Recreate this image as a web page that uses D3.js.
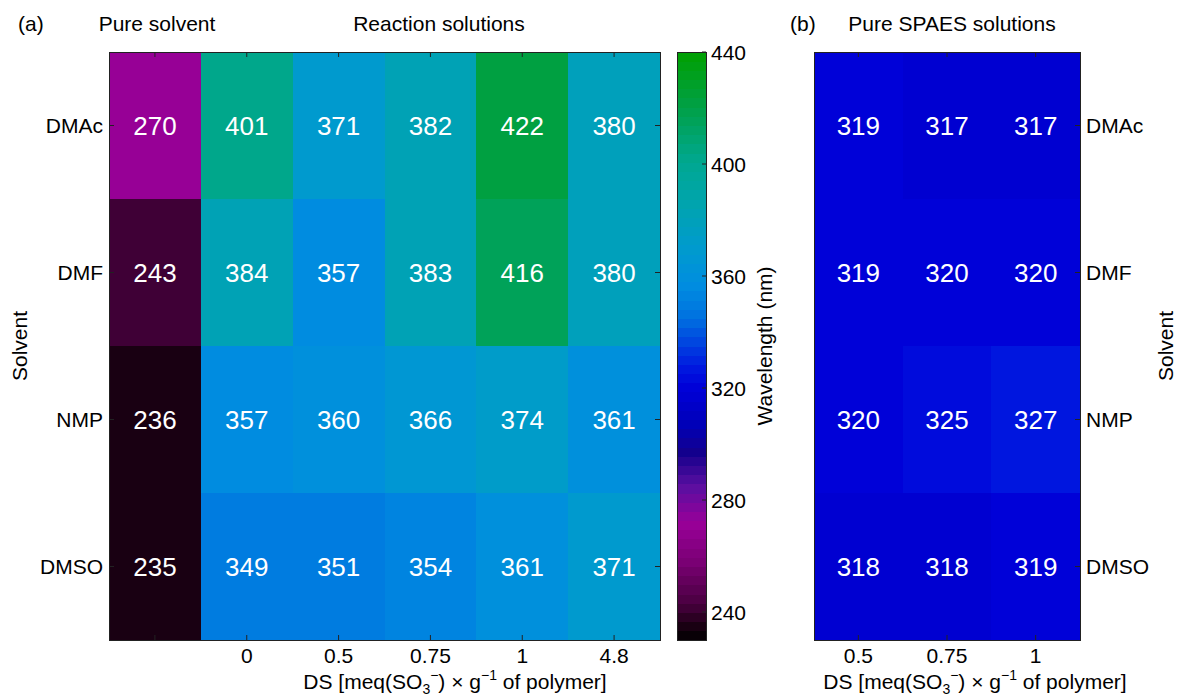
<!DOCTYPE html>
<html>
<head>
<meta charset="utf-8">
<script src="https://cdn.jsdelivr.net/npm/d3@7"></script>
<style>
  body { margin: 0; background: #fff; }
  svg text { font-family: "Liberation Sans", Arial, sans-serif; fill: #000; }
  rect { shape-rendering: crispEdges; }
</style>
</head>
<body>
<svg id="chart" width="1177" height="697"></svg>
<script>
// data
const solvents = ['DMAc', 'DMF', 'NMP', 'DMSO'];
const pureSolvent = [270, 243, 236, 235];
const reactionDS = ['0', '0.5', '0.75', '1', '4.8'];
const reaction = [
  [401, 371, 382, 422, 380],
  [384, 357, 383, 416, 380],
  [357, 360, 366, 374, 361],
  [349, 351, 354, 361, 371]
];
const spaesDS = ['0.5', '0.75', '1'];
const spaes = [
  [319, 317, 317],
  [319, 320, 320],
  [320, 325, 327],
  [318, 318, 319]
];
const cbTicks = [240, 280, 320, 360, 400, 440];

const svg = d3.select('#chart');

// colormap (discrete, 64 levels like matlab)
const cmin = 230, cmax = 440, nLevels = 64;
const stopVals = [230, 236, 243, 258, 272, 285, 297, 307, 320, 328, 345, 357, 371, 385, 401, 420, 440];
const stopCols = ['#000000', '#1f0016', '#48003f', '#7a0074', '#990099', '#5a0fa0', '#14008c', '#0000b8',
  '#0000d8', '#001ae0', '#0070e0', '#008ee0', '#009bcc', '#00a4b0', '#00a890', '#00a048', '#00a000'];
const smooth = d3.scaleLinear().domain(stopVals).range(stopCols).clamp(true);
function colour(v) {
  let i = Math.floor((v - cmin) / (cmax - cmin) * nLevels);
  i = Math.max(0, Math.min(nLevels - 1, i));
  return smooth(cmin + (i + 0.5) * (cmax - cmin) / nLevels);
}

const plotTop = 52, plotBottom = 640;
const y = d3.scaleBand().domain(solvents).range([plotTop, plotBottom]);

// ---- panel (a)
const colsA = ['pure'].concat(reactionDS);
const xA = d3.scaleBand().domain(colsA).range([109, 660]);

const cellsA = [];
solvents.forEach((s, i) => {
  cellsA.push({row: s, col: 'pure', v: pureSolvent[i]});
  reactionDS.forEach((d, j) => cellsA.push({row: s, col: d, v: reaction[i][j]}));
});

const gA = svg.append('g');
gA.selectAll('rect.cell').data(cellsA).enter().append('rect')
  .attr('class', 'cell')
  .attr('x', d => xA(d.col)).attr('y', d => y(d.row))
  .attr('width', xA.bandwidth() + 0.5).attr('height', y.bandwidth() + 0.5)
  .attr('fill', d => colour(d.v));
gA.selectAll('text.val').data(cellsA).enter().append('text')
  .attr('class', 'val')
  .attr('x', d => xA(d.col) + xA.bandwidth() / 2)
  .attr('y', d => y(d.row) + y.bandwidth() / 2 + 9)
  .attr('text-anchor', 'middle')
  .style('font-size', '26px').style('fill', '#fff')
  .text(d => d.v);

function frame(g, x0, x1, xScale, leftTicks, rightTicks) {
  g.append('rect').attr('x', x0).attr('y', plotTop).attr('width', x1 - x0).attr('height', plotBottom - plotTop)
    .attr('fill', 'none').attr('stroke', '#222').attr('stroke-width', 1);
  const tl = 5;
  xScale.domain().forEach(c => {
    const cx = xScale(c) + xScale.bandwidth() / 2;
    g.append('line').attr('x1', cx).attr('x2', cx).attr('y1', plotTop).attr('y2', plotTop + tl).attr('stroke', '#222');
    g.append('line').attr('x1', cx).attr('x2', cx).attr('y1', plotBottom).attr('y2', plotBottom - tl).attr('stroke', '#222');
  });
  solvents.forEach(s => {
    const cy = y(s) + y.bandwidth() / 2;
    if (leftTicks) g.append('line').attr('x1', x0).attr('x2', x0 + tl).attr('y1', cy).attr('y2', cy).attr('stroke', '#222');
    if (rightTicks) g.append('line').attr('x1', x1).attr('x2', x1 - tl).attr('y1', cy).attr('y2', cy).attr('stroke', '#222');
  });
}
frame(gA, 109, 660, xA, true, true);

// y tick labels left
gA.selectAll('text.ylab').data(solvents).enter().append('text')
  .attr('x', 103).attr('y', d => y(d) + y.bandwidth() / 2 + 7.5)
  .attr('text-anchor', 'end').style('font-size', '21px').text(d => d);
// x tick labels
gA.selectAll('text.xlab').data(reactionDS).enter().append('text')
  .attr('x', d => xA(d) + xA.bandwidth() / 2).attr('y', 663)
  .attr('text-anchor', 'middle').style('font-size', '21px').text(d => d);

function dsLabel(g, cx) {
  const t = g.append('text').attr('x', cx).attr('y', 689).attr('text-anchor', 'middle').style('font-size', '21px');
  t.append('tspan').text('DS [meq(SO');
  t.append('tspan').attr('dy', 5).style('font-size', '14px').text('3');
  t.append('tspan').attr('dy', -14).style('font-size', '14px').text('\u2212');
  t.append('tspan').attr('dy', 9).text(') \u00d7 g');
  t.append('tspan').attr('dy', -9).style('font-size', '14px').text('\u22121');
  t.append('tspan').attr('dy', 9).text(' of polymer]');
}
dsLabel(gA, 455);

svg.append('text').attr('transform', 'translate(27,346) rotate(-90)')
  .attr('text-anchor', 'middle').style('font-size', '21px').text('Solvent');

svg.append('text').attr('x', 18).attr('y', 31).style('font-size', '21px').text('(a)');
svg.append('text').attr('x', 157).attr('y', 31).attr('text-anchor', 'middle').style('font-size', '21px').text('Pure solvent');
svg.append('text').attr('x', 439).attr('y', 31).attr('text-anchor', 'middle').style('font-size', '21px').text('Reaction solutions');

// ---- colorbar
const cb = d3.scaleLinear().domain([cmin, cmax]).range([plotBottom, plotTop]);
const levels = d3.range(nLevels).map(i => cmin + (i + 0.5) * (cmax - cmin) / nLevels);
const gC = svg.append('g');
gC.selectAll('rect').data(levels).enter().append('rect')
  .attr('x', 677).attr('width', 29)
  .attr('y', d => cb(d + (cmax - cmin) / nLevels / 2))
  .attr('height', (plotBottom - plotTop) / nLevels + 0.5)
  .attr('fill', d => colour(d));
gC.append('rect').attr('x', 677).attr('y', plotTop).attr('width', 29).attr('height', plotBottom - plotTop)
  .attr('fill', 'none').attr('stroke', '#222');
gC.selectAll('line.t').data(cbTicks).enter().append('line')
  .attr('x1', 706).attr('x2', 702).attr('y1', d => cb(d)).attr('y2', d => cb(d)).attr('stroke', '#222');
gC.selectAll('text.t').data(cbTicks).enter().append('text')
  .attr('x', 711).attr('y', d => cb(d) + 7.5).style('font-size', '21px').text(d => d);
svg.append('text').attr('transform', 'translate(772,346) rotate(-90)')
  .attr('text-anchor', 'middle').style('font-size', '21px').text('Wavelength (nm)');

// ---- panel (b)
const xB = d3.scaleBand().domain(spaesDS).range([814, 1080]);
const cellsB = [];
solvents.forEach((s, i) => spaesDS.forEach((d, j) => cellsB.push({row: s, col: d, v: spaes[i][j]})));
const gB = svg.append('g');
gB.selectAll('rect.cell').data(cellsB).enter().append('rect')
  .attr('x', d => xB(d.col)).attr('y', d => y(d.row))
  .attr('width', xB.bandwidth() + 0.5).attr('height', y.bandwidth() + 0.5)
  .attr('fill', d => colour(d.v));
gB.selectAll('text.val').data(cellsB).enter().append('text')
  .attr('x', d => xB(d.col) + xB.bandwidth() / 2)
  .attr('y', d => y(d.row) + y.bandwidth() / 2 + 9)
  .attr('text-anchor', 'middle')
  .style('font-size', '26px').style('fill', '#fff')
  .text(d => d.v);
frame(gB, 814, 1080, xB, false, true);
gB.selectAll('text.ylab').data(solvents).enter().append('text')
  .attr('x', 1086).attr('y', d => y(d) + y.bandwidth() / 2 + 7.5)
  .style('font-size', '21px').text(d => d);
gB.selectAll('text.xlab').data(spaesDS).enter().append('text')
  .attr('x', d => xB(d) + xB.bandwidth() / 2).attr('y', 663)
  .attr('text-anchor', 'middle').style('font-size', '21px').text(d => d);
dsLabel(gB, 975);
svg.append('text').attr('transform', 'translate(1173,346) rotate(-90)')
  .attr('text-anchor', 'middle').style('font-size', '21px').text('Solvent');
svg.append('text').attr('x', 790).attr('y', 31).style('font-size', '21px').text('(b)');
svg.append('text').attr('x', 952).attr('y', 31).attr('text-anchor', 'middle').style('font-size', '21px').text('Pure SPAES solutions');
</script>
</body>
</html>
